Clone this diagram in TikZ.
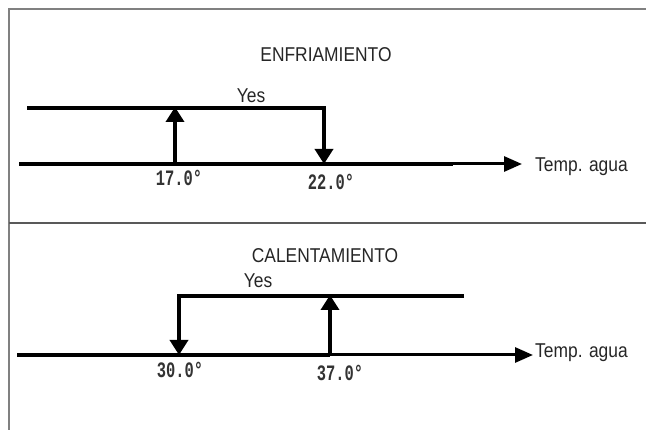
\documentclass[tikz,border=0pt]{standalone}
\usepackage{fontspec}
\setmainfont[FakeStretch=0.87]{Liberation Sans}
\newfontfamily\numfont[FakeStretch=0.7]{Liberation Mono Bold}
\usetikzlibrary{arrows.meta}
\tikzset{
  frameline/.style={draw=black!50, line width=2pt},
  divline/.style={draw=black!65, line width=2.5pt},
  lbl/.style={inner sep=0pt, anchor=base, text=black!85, font=\fontsize{20}{22}\selectfont},
  numlbl/.style={inner sep=0pt, anchor=base, text=black!80, font=\numfont\fontsize{22}{24}\selectfont},
  vtip/.style={-{Triangle[width=18pt,length=15pt]}},
  htip/.style={-{Triangle[width=15pt,length=18pt]}},
  sigline/.style={line width=3.5pt, line join=miter},
  axisthick/.style={line width=4.5pt},
  axisthin/.style={line width=3pt},
}
\begin{document}
\begin{tikzpicture}[x=1pt,y=-1pt]
\useasboundingbox (0,0) rectangle (646,430);
% frame
\coordinate (fbl) at (9,430);
\coordinate (ftl) at (9,9);
\coordinate (ftr) at (646,9);
\coordinate (dl) at (9,223);
\coordinate (dr) at (646,223);
\draw[frameline] (fbl) -- (ftl) -- (ftr);
\draw[divline] (dl) -- (dr);

% ---------- top panel: ENFRIAMIENTO ----------
\node[lbl] (t1) at (326,62) {ENFRIAMIENTO};
\node[lbl] (y1) at (251,103) {Yes};
\coordinate (a1s) at (19,164);
\coordinate (a1m) at (453,164);
\coordinate (a1e) at (522,164);
\draw[axisthick] (a1s) -- (a1m);
\draw[axisthin, htip] (a1s) -- (a1e);
\node[lbl, anchor=base west] (w1) at (535,172) {Temp. agua};
% upper (on) line and down arrow at 22.0
\coordinate (u1s) at (27,108);
\coordinate (u1c) at (324,108);
\coordinate (u1d) at (324,164);
\draw[sigline, vtip] (u1s) -- (u1c) -- (u1d);
% up arrow at 17.0
\coordinate (p1b) at (175,164);
\coordinate (p1t) at (175,107);
\draw[sigline, vtip] (p1b) -- (p1t);
\node[numlbl] (n17) at (179,186) {17.0°};
\node[numlbl] (n22) at (331,190) {22.0°};

% ---------- bottom panel: CALENTAMIENTO ----------
\node[lbl] (t2) at (325,263) {CALENTAMIENTO};
\node[lbl] (y2) at (258,288) {Yes};
\coordinate (a2s) at (17,355);
\coordinate (a2m) at (330,355);
\coordinate (a2e) at (533,355);
\draw[axisthick] (a2s) -- (a2m);
\draw[axisthin, htip] (a2s) -- (a2e);
\node[lbl, anchor=base west] (w2) at (535,358) {Temp. agua};
% upper line and down arrow at 30.0
\coordinate (u2s) at (464,296);
\coordinate (u2c) at (179,296);
\coordinate (u2d) at (179,355);
\draw[sigline, vtip] (u2s) -- (u2c) -- (u2d);
% up arrow at 37.0
\coordinate (p2b) at (330,355);
\coordinate (p2t) at (330,295);
\draw[sigline, vtip] (p2b) -- (p2t);
\node[numlbl] (n30) at (180,378) {30.0°};
\node[numlbl] (n37) at (340,381) {37.0°};
\end{tikzpicture}
\end{document}
